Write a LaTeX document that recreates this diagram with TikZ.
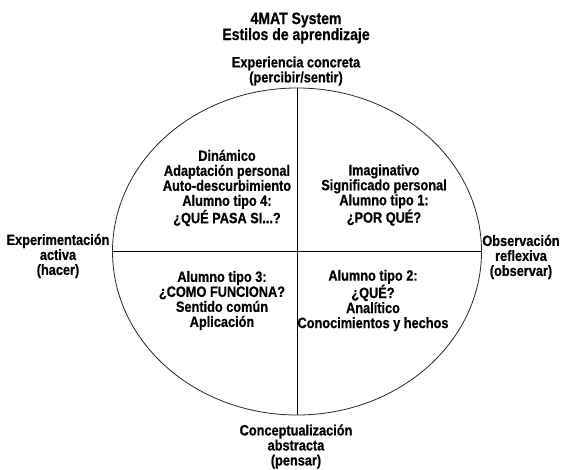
\documentclass[tikz,border=0pt]{standalone}
\usepackage{fontspec}
\usetikzlibrary{shapes.geometric}
\newfontfamily\labfont[FakeStretch=0.85, BoldFeatures={FakeBold=0.6}]{Liberation Sans}
\begin{document}
\begin{tikzpicture}[x=1pt,y=-1pt,
  lab/.style={font=\labfont\bfseries\fontsize{15}{15}\selectfont, align=center, inner sep=0pt, text=black},
  ttl/.style={font=\labfont\bfseries\fontsize{16.5}{16}\selectfont, align=center, inner sep=0pt, text=black},
  circ/.style={ellipse, draw=black!85, line width=0.8pt, minimum width=369pt, minimum height=327pt, inner sep=0pt},
  axis/.style={draw=black, line width=0.8pt}]
\useasboundingbox (0,0) rectangle (561,470);
\node[circ] (E) at (297,251.5) {};
\path[axis] (E.north) -- (E.south);
\path[axis] (E.west) -- (E.east);
\node[ttl] (title) at (296,28) {4MAT System\\Estilos de aprendizaje};
\node[lab] (top) at (296,71) {Experiencia concreta\\(percibir/sentir)};
\node[lab] (left) at (58,256) {Experimentación\\activa\\(hacer)};
\node[lab] (right) at (521,257) {Observación\\reflexiva\\(observar)};
\node[lab] (bottom) at (296,446.5) {Conceptualización\\abstracta\\(pensar)};
\node[lab] (q4) at (227,188) {Dinámico\\Adaptación personal\\Auto-descurbimiento\\Alumno tipo 4:\\¿QUÉ PASA SI...?};
\node[lab] (q1) at (384,195) {Imaginativo\\Significado personal\\Alumno tipo 1:\\¿POR QUÉ?};
\node[lab] (q3) at (222,300.5) {Alumno tipo 3:\\¿COMO FUNCIONA?\\Sentido común\\Aplicación};
\node[lab] (q2) at (373,300.5) {Alumno tipo 2:\\¿QUÉ?\\Analítico\\Conocimientos y hechos};
\end{tikzpicture}
\end{document}
